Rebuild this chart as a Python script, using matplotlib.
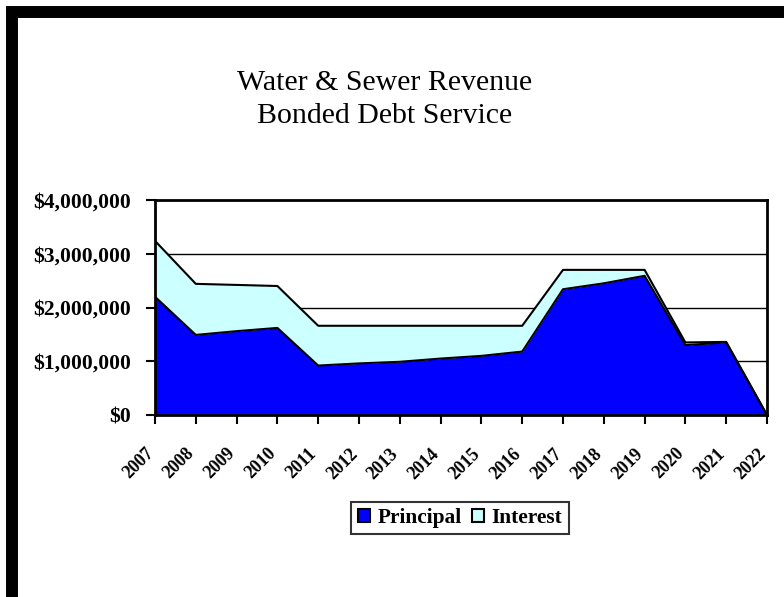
import matplotlib
matplotlib.use("Agg")
from matplotlib import pyplot as plt
from matplotlib.patches import Patch, Rectangle
from matplotlib.transforms import ScaledTranslation

years = ["2007", "2008", "2009", "2010", "2011", "2012", "2013", "2014",
         "2015", "2016", "2017", "2018", "2019", "2020", "2021", "2022"]
principal = [2.20, 1.49, 1.56, 1.62, 0.92, 0.96, 0.99, 1.05,
             1.10, 1.18, 2.34, 2.45, 2.59, 1.30, 1.35, 0.0]
interest = [1.04, 0.95, 0.86, 0.78, 0.74, 0.70, 0.67, 0.61,
            0.56, 0.48, 0.36, 0.25, 0.11, 0.05, 0.01, 0.0]
principal = [v * 1e6 for v in principal]
interest = [v * 1e6 for v in interest]
yticks = [0, 1e6, 2e6, 3e6, 4e6]
ylabels = ["$0", "$1,000,000", "$2,000,000", "$3,000,000", "$4,000,000"]

plt.rcParams['font.family'] = ['Liberation Serif', 'DejaVu Serif']

fig = plt.figure(figsize=(7.84, 5.97), dpi=100)
W, H = 784, 597

# thick black frame around the chart
fig.patches.append(Rectangle((12 / W, 1 - 599.5 / H), 780 / W, (599.5 - 11.5) / H,
                             transform=fig.transFigure, fill=False,
                             edgecolor="black", linewidth=8.6, zorder=10))

ax = fig.add_axes([155 / W, 1 - 415 / H, (767 - 155) / W, (415 - 200) / H])
x = list(range(len(years)))
total = [p + i for p, i in zip(principal, interest)]

ax.fill_between(x, 0, principal, color="#0000FF", linewidth=0, zorder=2)
ax.fill_between(x, principal, total, color="#CCFFFF", linewidth=0, zorder=2)
ax.plot(x, principal, color="black", linewidth=1.5, zorder=3)
ax.plot(x, total, color="black", linewidth=1.5, zorder=3)

ax.set_xlim(0, len(years) - 1)
ax.set_ylim(0, 4e6)
ax.set_yticks(yticks)
ax.set_yticklabels(ylabels, fontsize=15.5, fontweight="bold")
ax.set_xticks(x)
ax.set_xticklabels(years, fontsize=13, fontweight="bold", rotation=45,
                   ha="right", va="top", rotation_mode="anchor")
ax.tick_params(axis="both", direction="out", length=6.5, width=1.5, color="black")
ax.tick_params(axis="x", pad=0)
ax.tick_params(axis="y", pad=11)
shift = ScaledTranslation(-0.1, -0.21, fig.dpi_scale_trans)
for lab in ax.get_xticklabels():
    lab.set_transform(lab.get_transform() + shift)
ax.grid(axis="y", color="black", linewidth=1, zorder=1)
ax.set_axisbelow(True)
for s in ax.spines.values():
    s.set_linewidth(2)
    s.set_zorder(4)

fig.text(385 / W, 1 - 83 / H, "Water & Sewer Revenue", ha="center", va="center", fontsize=21.5)
fig.text(385 / W, 1 - 116 / H, "Bonded Debt Service", ha="center", va="center", fontsize=21.5)

handles = [Patch(facecolor="#0000FF", edgecolor="black", linewidth=1.5),
           Patch(facecolor="#CCFFFF", edgecolor="black", linewidth=1.5)]
leg = fig.legend(handles, ["Principal", "Interest"], loc="center",
                 bbox_to_anchor=(460 / W, 1 - 518 / H), ncol=2, frameon=True,
                 fancybox=False, handlelength=0.55, handleheight=0.5,
                 handletextpad=0.37, columnspacing=0.47, borderpad=0.3,
                 borderaxespad=0, prop={"weight": "bold", "size": 15.4})
leg.get_frame().set_edgecolor("black")
leg.get_frame().set_linewidth(1.5)

fig.savefig("out.png", dpi=100)
